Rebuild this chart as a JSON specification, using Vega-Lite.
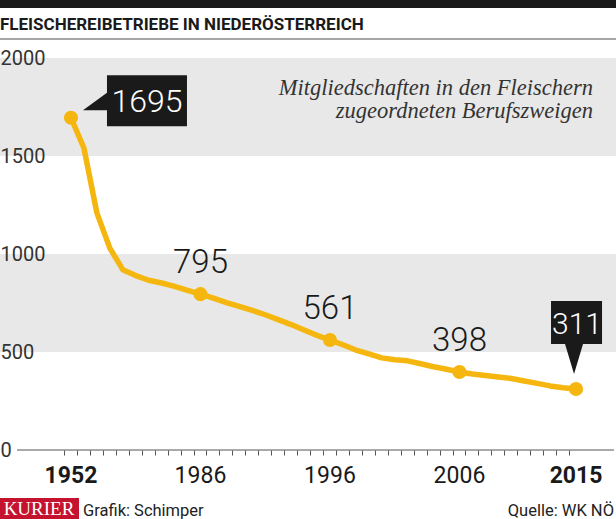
{
  "$schema": "https://vega.github.io/schema/vega-lite/v6.json",
  "width": 616,
  "height": 392,
  "padding": {"left": 0, "right": 0, "top": 58, "bottom": 69},
  "autosize": {"type": "none"},
  "background": "white",
  "config": {"view": {"stroke": null}, "font": "Roboto"},
  "datasets": {
    "series": [
      {"year": 1952, "value": 1695},
      {"year": 1977, "value": 1540},
      {"year": 1978, "value": 1210},
      {"year": 1979, "value": 1030},
      {"year": 1980, "value": 920},
      {"year": 1981, "value": 890},
      {"year": 1982, "value": 866},
      {"year": 1983, "value": 852},
      {"year": 1984, "value": 835},
      {"year": 1985, "value": 815},
      {"year": 1986, "value": 795},
      {"year": 1987, "value": 775},
      {"year": 1988, "value": 752},
      {"year": 1989, "value": 733},
      {"year": 1990, "value": 712},
      {"year": 1991, "value": 690},
      {"year": 1992, "value": 665},
      {"year": 1993, "value": 640},
      {"year": 1994, "value": 612},
      {"year": 1995, "value": 585},
      {"year": 1996, "value": 561},
      {"year": 1997, "value": 537},
      {"year": 1998, "value": 510},
      {"year": 1999, "value": 490},
      {"year": 2000, "value": 470},
      {"year": 2001, "value": 460},
      {"year": 2002, "value": 455},
      {"year": 2003, "value": 440},
      {"year": 2004, "value": 425},
      {"year": 2005, "value": 412},
      {"year": 2006, "value": 398},
      {"year": 2007, "value": 388},
      {"year": 2008, "value": 380},
      {"year": 2009, "value": 372},
      {"year": 2010, "value": 365},
      {"year": 2011, "value": 352},
      {"year": 2012, "value": 340},
      {"year": 2013, "value": 327},
      {"year": 2014, "value": 318},
      {"year": 2015, "value": 311}
    ],
    "bands": [
      {"from": 1500, "to": 2000},
      {"from": 500, "to": 1000}
    ]
  },
  "layer": [
    {
      "data": {"name": "bands"},
      "mark": {"type": "rect", "color": "#e8e8e8"},
      "encoding": {
        "y": {"field": "from", "type": "quantitative", "title": null,
              "scale": {"domain": [0, 2000], "nice": false},
              "axis": {"values": [0, 500, 1000, 1500, 2000], "format": "d", "grid": false, "ticks": false, "tickSize": 0, "domain": false,
                       "labelAlign": "left", "labelBaseline": "middle", "labelPadding": 0, "labelFont": "Roboto", "labelFontWeight": "normal",
                       "labelFontSize": 20, "labelColor": "#333333", "labelFlush": false, "title": null, "zindex": 1}},
        "y2": {"field": "to"}
      }
    },
    {
      "data": {"values": [{}]},
      "mark": {"type": "rule", "color": "#555555", "strokeWidth": 1},
      "encoding": {"y": {"datum": 0, "type": "quantitative"}, "x": {"value": 17}, "x2": {"value": 614}}
    },
    {
      "data": {"name": "series"},
      "mark": {"type": "line", "color": "#f5b70f", "strokeWidth": 5.5, "strokeJoin": "round", "strokeCap": "round"},
      "encoding": {
        "x": {"field": "year", "type": "ordinal", "title": null,
              "scale": {"type": "band", "paddingInner": 0, "paddingOuter": 0, "range": [64.5, 582.5]},
              "axis": {"bandPosition": 0, "tickSize": 5, "tickColor": "#555555", "domain": false,
                       "labelExpr": "indexof(['1952','1986','1996','2006','2015'], datum.label) >= 0 ? datum.label : ''",
                       "labelFont": "Roboto", "labelFontSize": 23, "labelColor": "#1a1a1a",
                       "labelFontWeight": {"condition": {"test": "datum.value == 1952 || datum.value == 2015", "value": "bold"}, "value": "normal"},
                       "labelBaseline": "alphabetic", "labelPadding": 27, "labelAngle": 0, "labelOverlap": false, "labelFlush": false,
                       "grid": false, "title": null, "zindex": 1}},
        "y": {"field": "value", "type": "quantitative", "title": null}
      }
    },
    {
      "data": {"name": "series"},
      "transform": [{"filter": {"field": "year", "oneOf": [1952, 1986, 1996, 2006, 2015]}}],
      "mark": {"type": "circle", "color": "#f5b70f", "size": 200, "opacity": 1},
      "encoding": {
        "x": {"field": "year", "type": "ordinal"},
        "y": {"field": "value", "type": "quantitative"}
      }
    },
    {
      "data": {"name": "series"},
      "transform": [{"filter": {"field": "year", "oneOf": [1986, 1996, 2006]}}],
      "mark": {"type": "text", "font": "Roboto", "fontSize": 33, "fontWeight": 300, "color": "#1a1a1a", "align": "center", "baseline": "alphabetic", "dy": -21},
      "encoding": {
        "x": {"field": "year", "type": "ordinal"},
        "y": {"field": "value", "type": "quantitative"},
        "text": {"field": "value", "type": "quantitative"}
      }
    },
    {
      "data": {"name": "series"},
      "transform": [{"filter": {"field": "year", "equal": 1952}}],
      "mark": {"type": "point", "shape": "M36,-42.5H116V8.5H36V-7.5H12L36,-25Z", "size": 4, "filled": true, "color": "#1a1a1a", "strokeWidth": 0, "opacity": 1},
      "encoding": {
        "x": {"field": "year", "type": "ordinal"},
        "y": {"field": "value", "type": "quantitative"}
      }
    },
    {
      "data": {"name": "series"},
      "transform": [{"filter": {"field": "year", "equal": 1952}}],
      "mark": {"type": "text", "font": "Roboto", "fontSize": 32, "fontWeight": 300, "color": "#ffffff", "align": "center", "baseline": "alphabetic", "dx": 76, "dy": -6},
      "encoding": {
        "x": {"field": "year", "type": "ordinal"},
        "y": {"field": "value", "type": "quantitative"},
        "text": {"field": "value", "type": "quantitative"}
      }
    },
    {
      "data": {"name": "series"},
      "transform": [{"filter": {"field": "year", "equal": 2015}}],
      "mark": {"type": "point", "shape": "M-25,-88H26V-45H7L-2,-15L-11,-45H-25Z", "size": 4, "filled": true, "color": "#1a1a1a", "strokeWidth": 0, "opacity": 1},
      "encoding": {
        "x": {"field": "year", "type": "ordinal"},
        "y": {"field": "value", "type": "quantitative"}
      }
    },
    {
      "data": {"name": "series"},
      "transform": [{"filter": {"field": "year", "equal": 2015}}],
      "mark": {"type": "text", "font": "Roboto", "fontSize": 30, "fontWeight": 300, "color": "#ffffff", "align": "center", "baseline": "alphabetic", "dx": 1, "dy": -55},
      "encoding": {
        "x": {"field": "year", "type": "ordinal"},
        "y": {"field": "value", "type": "quantitative"},
        "text": {"field": "value", "type": "quantitative"}
      }
    },
    {
      "data": {"values": [{}]},
      "mark": {"type": "text", "text": ["Mitgliedschaften in den Fleischern", "zugeordneten Berufszweigen"],
               "font": "Liberation Serif", "fontStyle": "italic", "fontSize": 22.5, "lineHeight": 23,
               "align": "right", "baseline": "alphabetic", "dx": 17, "color": "#333333"},
      "encoding": {
        "x": {"datum": 2015, "type": "ordinal"},
        "y": {"datum": 1811, "type": "quantitative"}
      }
    },
    {
      "data": {"values": [{}]},
      "mark": {"type": "rule", "color": "#1a1a1a", "strokeWidth": 8},
      "encoding": {"y": {"value": -54}}
    },
    {
      "data": {"values": [{}]},
      "mark": {"type": "rule", "color": "#888888", "strokeWidth": 1.5},
      "encoding": {"y": {"value": -19}}
    },
    {
      "data": {"values": [{}]},
      "mark": {"type": "text", "text": "FLEISCHEREIBETRIEBE IN NIEDERÖSTERREICH", "font": "Roboto", "fontSize": 17, "fontWeight": "bold",
               "color": "#1a1a1a", "align": "left", "baseline": "alphabetic"},
      "encoding": {"x": {"value": 0}, "y": {"value": -28}}
    },
    {
      "data": {"values": [{}]},
      "mark": {"type": "rect", "color": "#c4122f"},
      "encoding": {"x": {"value": 0}, "x2": {"value": 79}, "y": {"value": 440}, "y2": {"value": 461}}
    },
    {
      "data": {"values": [{}]},
      "mark": {"type": "text", "text": "KURIER", "font": "Liberation Serif", "fontSize": 19, "color": "#ffffff", "align": "center", "baseline": "alphabetic"},
      "encoding": {"x": {"value": 39}, "y": {"value": 457}}
    },
    {
      "data": {"values": [{}]},
      "mark": {"type": "text", "text": "Grafik: Schimper", "font": "Roboto", "fontSize": 16.5, "color": "#222222", "align": "left", "baseline": "alphabetic"},
      "encoding": {"x": {"value": 83}, "y": {"value": 458}}
    },
    {
      "data": {"values": [{}]},
      "mark": {"type": "text", "text": "Quelle: WK NÖ", "font": "Roboto", "fontSize": 16.5, "color": "#222222", "align": "right", "baseline": "alphabetic"},
      "encoding": {"x": {"value": 614}, "y": {"value": 458}}
    }
  ]
}
